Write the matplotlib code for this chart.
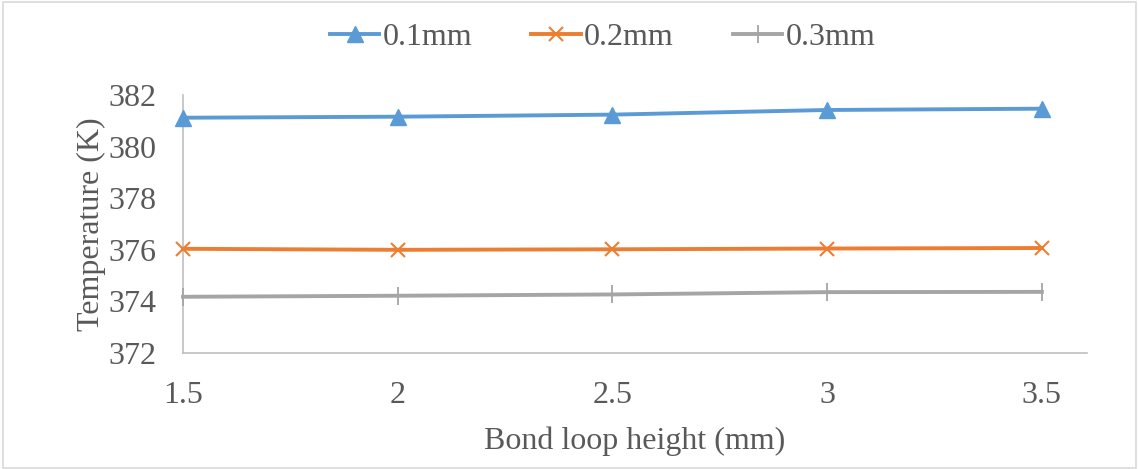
import matplotlib
matplotlib.use("Agg")
import matplotlib.pyplot as plt
from matplotlib.patches import Rectangle

heights = [1.5, 2, 2.5, 3, 3.5]
t_01 = [381.12, 381.16, 381.24, 381.42, 381.47]
t_02 = [376.04, 376.0, 376.02, 376.05, 376.07]
t_03 = [374.18, 374.22, 374.27, 374.36, 374.37]
series_labels = ["0.1mm", "0.2mm", "0.3mm"]
x_ticks = [1.5, 2, 2.5, 3, 3.5]
x_tick_labels = ["1.5", "2", "2.5", "3", "3.5"]
y_ticks = [372, 374, 376, 378, 380, 382]

plt.rcParams['font.family'] = ['Liberation Serif', 'DejaVu Serif']
txt = '#595959'
fs = 23

fig = plt.figure(figsize=(11.39, 4.69), dpi=100)
ax = fig.add_axes([0.1607, 0.2473, 0.9543 - 0.1607, 0.7974 - 0.2473])

ax.plot(heights, t_01, color='#5B9BD5', lw=2.8, marker='^', ms=11, label=series_labels[0], clip_on=False, zorder=3)
ax.plot(heights, t_02, color='#ED7D31', lw=2.8, marker='x', ms=10, mew=1.5, label=series_labels[1], clip_on=False, zorder=3)
ax.plot(heights, t_03, color='#A5A5A5', lw=2.8, marker='|', ms=13, mew=1.3, label=series_labels[2], clip_on=False, zorder=3)

ax.set_xlim(1.5, 3.605)
ax.set_ylim(372, 382)
ax.set_xticks(x_ticks)
ax.set_xticklabels(x_tick_labels)
ax.set_yticks(y_ticks)
ax.tick_params(length=0, labelsize=fs, colors=txt)
ax.tick_params(axis='y', pad=19)
ax.tick_params(axis='x', pad=20)
for s in ['top', 'right']:
    ax.spines[s].set_visible(False)
for s in ['left', 'bottom']:
    ax.spines[s].set_color('#BFBFBF')
    ax.spines[s].set_linewidth(1.2)

ax.set_xlabel("Bond loop height (mm)", fontsize=fs, color=txt, labelpad=12)
ax.set_ylabel("Temperature (K)", fontsize=fs, color=txt, labelpad=2)

leg = fig.legend(loc='center', bbox_to_anchor=(0.529, 0.92), ncol=3, frameon=False,
                 fontsize=fs, labelcolor=txt, handlelength=1.55, columnspacing=1.85, handletextpad=0.1)

fig.patches.append(Rectangle((0.003, 0.003), 0.994, 0.992, transform=fig.transFigure,
                             fill=False, edgecolor='#D9D9D9', lw=1.2))

fig.savefig("out.png", dpi=100)
